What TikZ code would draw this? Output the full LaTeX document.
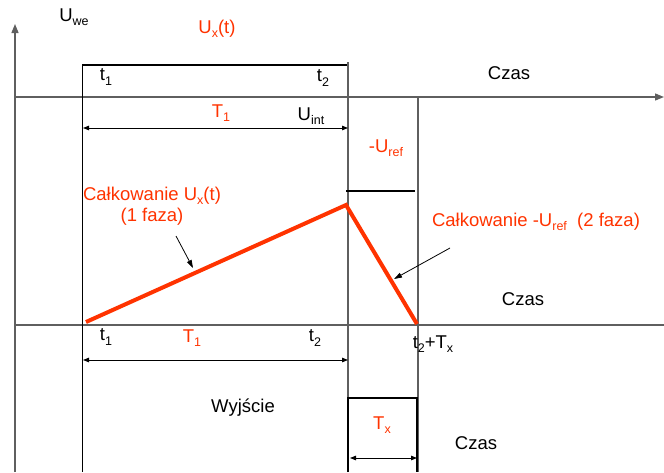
\documentclass[tikz,border=0pt]{standalone}
\usepackage{fontspec}
\setmainfont{Liberation Sans}
\usetikzlibrary{arrows.meta}
\definecolor{redor}{RGB}{255,51,0}
\definecolor{axgray}{RGB}{95,95,95}
\newcommand\sbs[1]{\raisebox{-0.45ex}{\fontsize{12.5}{13}\selectfont #1}}
\tikzset{
  axis/.style={draw=axgray,line width=1.3pt},
  guide/.style={draw=axgray,line width=1.1pt},
  pulse/.style={draw=black,line width=2.2pt},
  dimarrow/.style={draw=black,line width=0.9pt,{Triangle[length=6pt,width=4.5pt]}-{Triangle[length=6pt,width=4.5pt]}},
  note/.style={draw=black,line width=0.8pt,-{Triangle[length=8pt,width=5pt]}},
  integ/.style={draw=redor,line width=4pt},
  lbl/.style={inner sep=0pt,font=\fontsize{18.5}{20.5}\selectfont},
  rlbl/.style={lbl,text=redor},
}
\begin{document}
\begin{tikzpicture}[x=1pt,y=-1pt]
\useasboundingbox (0,0) rectangle (664,472);
% coordinates
\coordinate (yb) at (15,472);
\coordinate (yt) at (15,24);
\coordinate (a1l) at (15,97);
\coordinate (a1r) at (664,97);
\coordinate (a2l) at (15,325);
\coordinate (a2r) at (664,325);
\coordinate (v1t) at (82,65);
\coordinate (v1b) at (82,472);
\coordinate (v2t) at (348,62);
\coordinate (v2b) at (348,472);
\coordinate (v3t) at (418,97);
\coordinate (v3b) at (418,472);
\coordinate (p2) at (347,65);
\coordinate (d1l) at (83,128);
\coordinate (d1r) at (348,128);
\coordinate (d2l) at (83,360);
\coordinate (d2r) at (348,360);
\coordinate (r1) at (346,191);
\coordinate (r2) at (415,191);
\coordinate (i0) at (86,322);
\coordinate (i1) at (346,205);
\coordinate (i2) at (417,324);
\coordinate (n1s) at (176,236);
\coordinate (n1e) at (193,268);
\coordinate (n2s) at (450,248);
\coordinate (n2e) at (394,279);
\coordinate (bxl) at (348,472);
\coordinate (bxtl) at (348,398);
\coordinate (bxtr) at (417,398);
\coordinate (bxr) at (417,472);
\coordinate (d3l) at (350,458);
\coordinate (d3r) at (417,458);
% axes
\draw[axis,-{Triangle[length=9pt,width=7pt]}] (yb) -- (yt);
\draw[axis,-{Triangle[length=9pt,width=7pt]}] (a1l) -- (a1r);
\draw[axis] (a2l) -- (a2r);
% guides
\draw[draw=black,line width=1pt] (v1t) -- (v1b);
\draw[guide] (v2t) -- (v2b);
\draw[guide] (v3t) -- (v3b);
% input pulse
\draw[pulse] (v1t) -- (p2);
% -Uref level
\draw[pulse,line width=1.6pt] (r1) -- (r2);
% dimension arrows
\draw[dimarrow] (d1l) -- (d1r);
\draw[dimarrow] (d2l) -- (d2r);
\draw[dimarrow] (d3l) -- (d3r);
% integration ramp
\draw[integ,line join=miter] (i0) -- (i1) -- (i2);
% notes
\draw[note] (n1s) -- (n1e);
\draw[note] (n2s) -- (n2e);
% output pulse
\draw[pulse,line width=2pt] (bxl) -- (bxtl) -- (bxtr) -- (bxr);
% labels
\node[lbl] (uwe) at (74,17) {U\sbs{we}};
\node[rlbl] (ux) at (217,29) {U\sbs{x}(t)};
\node[lbl] (t1a) at (106,77) {t\sbs{1}};
\node[lbl] (t2a) at (323,78) {t\sbs{2}};
\node[lbl] (cz1) at (509,73) {Czas};
\node[rlbl] (T1a) at (221,113) {T\sbs{1}};
\node[lbl] (uint) at (311,116) {U\sbs{int}};
\node[rlbl] (uref) at (386,148) {-U\sbs{ref}};
\node[rlbl,align=center] (c1) at (152,206) {Całkowanie U\sbs{x}(t)\\(1 faza)};
\node[rlbl] (c2) at (536,222) {Całkowanie -U\sbs{ref}\ \ (2 faza)};
\node[lbl] (cz2) at (523,299) {Czas};
\node[lbl] (t1b) at (106,337) {t\sbs{1}};
\node[rlbl] (T1b) at (192,338) {T\sbs{1}};
\node[lbl] (t2b) at (315,338) {t\sbs{2}};
\node[lbl] (t2tx) at (433,344) {t\sbs{2}+T\sbs{x}};
\node[lbl] (wy) at (243,408) {Wyjście};
\node[rlbl] (tx) at (382,425) {T\sbs{x}};
\node[lbl] (cz3) at (476,443) {Czas};
\end{tikzpicture}
\end{document}
